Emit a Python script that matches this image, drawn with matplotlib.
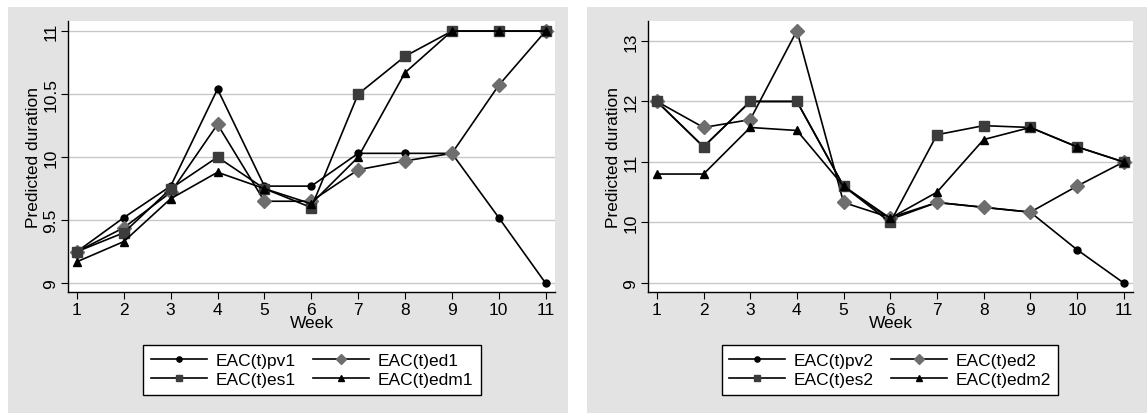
import matplotlib
matplotlib.use("Agg")
import matplotlib.pyplot as plt
from matplotlib.patches import Rectangle

plt.rcParams['font.family'] = ['Liberation Sans', 'DejaVu Sans']

weeks = [1, 2, 3, 4, 5, 6, 7, 8, 9, 10, 11]

pv1 = [9.25, 9.52, 9.77, 10.54, 9.77, 9.77, 10.03, 10.03, 10.03, 9.52, 9.0]
ed1 = [9.25, 9.44, 9.72, 10.26, 9.65, 9.65, 9.90, 9.97, 10.03, 10.57, 11.0]
es1 = [9.25, 9.40, 9.75, 10.0, 9.75, 9.60, 10.5, 10.8, 11.0, 11.0, 11.0]
edm1 = [9.17, 9.33, 9.67, 9.88, 9.75, 9.63, 10.0, 10.67, 11.0, 11.0, 11.0]

pv2 = [12.0, 11.25, 12.0, 12.0, 10.6, 10.05, 10.33, 10.25, 10.17, 9.55, 9.0]
ed2 = [12.0, 11.57, 11.7, 13.17, 10.33, 10.08, 10.33, 10.25, 10.17, 10.6, 11.0]
es2 = [12.0, 11.25, 12.0, 12.0, 10.6, 10.0, 11.45, 11.6, 11.57, 11.25, 11.0]
edm2 = [10.8, 10.8, 11.57, 11.52, 10.6, 10.07, 10.5, 11.37, 11.57, 11.25, 11.0]

labels1 = ['EAC(t)pv1', 'EAC(t)ed1', 'EAC(t)es1', 'EAC(t)edm1']
labels2 = ['EAC(t)pv2', 'EAC(t)ed2', 'EAC(t)es2', 'EAC(t)edm2']

yticks1 = [9, 9.5, 10, 10.5, 11]
yticklabels1 = ['9', '9.5', '10', '10.5', '11']
yticks2 = [9, 10, 11, 12, 13]
yticklabels2 = ['9', '10', '11', '12', '13']

W, H = 1147, 414
fig = plt.figure(figsize=(W / 100, H / 100), dpi=100)
fig.patch.set_facecolor('white')

bg = '#e3e3e3'
fig.patches.append(Rectangle((8 / W, 0), 560 / W, 406 / H, transform=fig.transFigure,
                             facecolor=bg, edgecolor='none', zorder=-5))
fig.patches.append(Rectangle((587 / W, 0), 560 / W, 406 / H, transform=fig.transFigure,
                             facecolor=bg, edgecolor='none', zorder=-5))

styles = [
    dict(marker='o', markersize=5, color='black', mfc='black', mec='black'),
    dict(marker='D', markersize=7, color='black', mfc='#6e6e6e', mec='#6e6e6e'),
    dict(marker='s', markersize=6.5, color='black', mfc='#3c3c3c', mec='#3c3c3c'),
    dict(marker='^', markersize=6, color='black', mfc='black', mec='black'),
]

FS = 12.5


def panel(rect, series, labels, yticks, yticklabels, ylim, leg_center):
    ax = fig.add_axes(rect)
    ax.set_facecolor('white')
    lines = []
    for vals, lab, st in zip(series, labels, styles):
        ln, = ax.plot(weeks, vals, label=lab, linewidth=1.2, **st)
        lines.append(ln)
    ax.set_xlim(0.81, 11.2)
    ax.set_ylim(*ylim)
    ax.set_xticks(weeks)
    ax.set_xticklabels([str(w) for w in weeks], fontsize=FS)
    ax.set_yticks(yticks)
    ax.set_yticklabels(yticklabels, fontsize=FS, rotation=90, va='center')
    ax.yaxis.grid(True, color='#c8c8c8', linewidth=1.0)
    ax.set_axisbelow(True)
    for s in ['top', 'right']:
        ax.spines[s].set_visible(False)
    for s in ['left', 'bottom']:
        ax.spines[s].set_linewidth(1.0)
    ax.tick_params(direction='out', length=5, width=0.8, pad=2)
    ax.set_xlabel('Week', fontsize=FS, labelpad=-1)
    ax.set_ylabel('Predicted duration', fontsize=FS, labelpad=2)
    order = [0, 2, 1, 3]
    fig.legend([lines[i] for i in order], [labels[i] for i in order],
               loc='center', bbox_to_anchor=leg_center, ncol=2, fontsize=FS,
               frameon=True, fancybox=False, edgecolor='black', framealpha=1,
               handlelength=3.2, columnspacing=1.0, handletextpad=0.5,
               borderpad=0.45, labelspacing=0.25, markerscale=0.75)
    return ax


panel([68 / W, 121 / H, 487 / W, 271 / H], [pv1, ed1, es1, edm1], labels1,
      yticks1, yticklabels1, (8.93, 11.08), (312 / W, 1 - 371 / H))
panel([648 / W, 121 / H, 485 / W, 271 / H], [pv2, ed2, es2, edm2], labels2,
      yticks2, yticklabels2, (8.85, 13.33), (890 / W, 1 - 371 / H))

fig.savefig('out.png', dpi=100)
